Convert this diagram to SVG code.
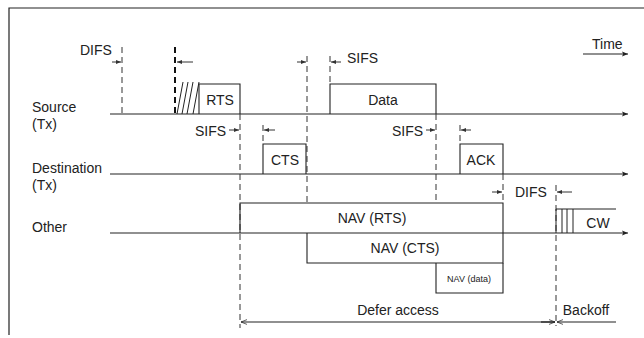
<svg xmlns="http://www.w3.org/2000/svg" width="644" height="338" viewBox="0 0 644 338">
<defs>
<marker id="ah" viewBox="0 0 10 10" refX="10" refY="5" markerWidth="8" markerHeight="6" markerUnits="userSpaceOnUse" orient="auto"><path d="M0,1 L10,5 L0,9 L2,5 Z" fill="#222"/></marker>
<marker id="sm" viewBox="0 0 10 10" refX="10" refY="5" markerWidth="6" markerHeight="5" markerUnits="userSpaceOnUse" orient="auto"><path d="M0,1 L10,5 L0,9 Z" fill="#333"/></marker>
<marker id="op" viewBox="0 0 10 10" refX="10" refY="5" markerWidth="9" markerHeight="6" markerUnits="userSpaceOnUse" orient="auto"><path d="M0,1 L10,5 L0,9" fill="none" stroke="#222" stroke-width="1.2"/></marker>
</defs>
<style>
text{font-family:"Liberation Sans",Arial,sans-serif;font-size:14px;fill:#222}
.c{text-anchor:middle}
.ln{stroke:#222;stroke-width:1.2;fill:none}
.bx{stroke:#222;stroke-width:1.1;fill:none}
.d{stroke:#333;stroke-width:1;stroke-dasharray:6,4;fill:none}
.dk{stroke:#111;stroke-width:2;stroke-dasharray:6,4;fill:none}
.a{stroke:#333;stroke-width:1;fill:none;marker-end:url(#sm)}
.h{stroke:#222;stroke-width:1;fill:none}
</style>
<rect width="644" height="338" fill="#fff"/>
<path d="M9,335 V8 H644" class="ln" stroke="#555"/>
<g id="labels">
<text x="32" y="112">Source</text>
<text x="32" y="129">(Tx)</text>
<text x="32" y="173">Destination</text>
<text x="32" y="190">(Tx)</text>
<text x="32" y="232">Other</text>
</g>
<g id="time">
<text x="592" y="49">Time</text>
</g>
<g id="connectors">
<line x1="583" y1="54" x2="628" y2="54" class="ln" marker-end="url(#ah)"/>
<line x1="110" y1="114" x2="628" y2="114" class="ln" marker-end="url(#ah)"/>
<line x1="110" y1="174" x2="628" y2="174" class="ln" marker-end="url(#ah)"/>
<line x1="110" y1="233" x2="628" y2="233" class="ln" marker-end="url(#ah)"/>
<line x1="122" y1="47" x2="122" y2="114" class="d"/>
<line x1="175" y1="47" x2="175" y2="114" class="dk"/>
<line x1="240" y1="114" x2="240" y2="328" class="d"/>
<line x1="307" y1="56" x2="307" y2="203" class="d"/>
<line x1="330" y1="56" x2="330" y2="84" class="d"/>
<line x1="436" y1="114" x2="436" y2="203" class="d"/>
<line x1="503" y1="174" x2="503" y2="203" class="d"/>
<line x1="556" y1="185" x2="556" y2="326" class="d"/>
<line x1="263" y1="125" x2="263" y2="144" class="d"/>
<line x1="460" y1="125" x2="460" y2="144" class="d"/>
<line x1="112" y1="62" x2="121" y2="62" class="a"/>
<line x1="193" y1="62" x2="177" y2="62" class="a"/>
<line x1="297" y1="62" x2="306" y2="62" class="a"/>
<line x1="341" y1="62" x2="331" y2="62" class="a"/>
<line x1="229" y1="130" x2="239" y2="130" class="a"/>
<line x1="275" y1="130" x2="264" y2="130" class="a"/>
<line x1="426" y1="130" x2="435" y2="130" class="a"/>
<line x1="471" y1="130" x2="461" y2="130" class="a"/>
<line x1="492" y1="192" x2="502" y2="192" class="a"/>
<line x1="572" y1="192" x2="557" y2="192" class="a"/>
<line x1="555" y1="322" x2="241" y2="322" class="ln" marker-end="url(#op)"/>
<line x1="541" y1="322" x2="555" y2="322" class="ln" marker-end="url(#op)"/>
<line x1="616" y1="322" x2="557" y2="322" class="ln" marker-end="url(#op)"/>
</g>
<g id="difs1"><text x="80" y="55">DIFS</text></g>
<g id="hatch">
<path d="M177,114 L183,82 M182,114 L188,82 M187,114 L193,82 M193,114 L199,82" class="h"/>
</g>
<g id="rts"><path d="M199,114 V84 H240 V114" class="bx"/><text x="220" y="105" class="c">RTS</text></g>
<g id="sifs1"><text x="195" y="136">SIFS</text></g>
<g id="cts"><path d="M263,174 V144 H306 V174" class="bx"/><text x="285" y="165" class="c">CTS</text></g>
<g id="sifs2"><text x="347" y="63">SIFS</text></g>
<g id="data"><path d="M330,114 V84 H436 V114" class="bx"/><text x="383" y="105" class="c">Data</text></g>
<g id="sifs3"><text x="392" y="136">SIFS</text></g>
<g id="ack"><path d="M460,174 V144 H503 V174" class="bx"/><text x="481" y="165" class="c">ACK</text></g>
<g id="difs2"><text x="515" y="197">DIFS</text></g>
<g id="navrts"><path d="M240,233 V203 H503 V233" class="bx"/><text x="372" y="223" class="c">NAV (RTS)</text></g>
<g id="navcts"><path d="M307,233 V263 H503 V233" class="bx"/><text x="405" y="253" class="c">NAV (CTS)</text></g>
<g id="navdata"><path d="M436,263 V293 H503 V263" class="bx"/><text x="469" y="282" class="c" style="font-size:9px">NAV (data)</text></g>
<g id="cw"><path d="M556,233 V209 H616 M562,209 V233 M567,209 V233 M573,209 V233" class="h"/><text x="598" y="228" class="c">CW</text></g>
<g id="defer"><text x="398" y="315" class="c">Defer access</text></g>
<g id="backoff"><text x="586" y="315" class="c">Backoff</text></g>
</svg>
